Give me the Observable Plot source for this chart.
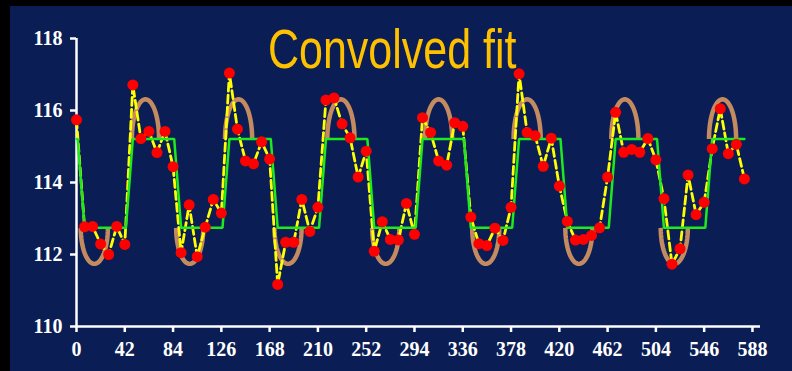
<!DOCTYPE html>
<html>
<head>
<meta charset="utf-8">
<script src="https://cdn.jsdelivr.net/npm/d3@7"></script>
<script src="https://cdn.jsdelivr.net/npm/@observablehq/plot@0.6"></script>
<style>
  html, body { margin: 0; padding: 0; background: #000; }
  #chart { position: absolute; left: 10px; top: 6px; width: 782px; height: 365px; background: #0a1e55; }
</style>
</head>
<body>
<div id="chart"></div>
<script>
// Weekly observations (day, value)
const days = [0, 7, 14, 21, 28, 35, 42, 49, 56, 63, 70, 77, 84, 91, 98, 105, 112, 119, 126, 133,
  140, 147, 154, 161, 168, 175, 182, 189, 196, 203, 210, 217, 224, 231, 238, 245, 252, 259, 266, 273,
  280, 287, 294, 301, 308, 315, 322, 329, 336, 343, 350, 357, 364, 371, 378, 385, 392, 399, 406, 413,
  420, 427, 434, 441, 448, 455, 462, 469, 476, 483, 490, 497, 504, 511, 518, 525, 532, 539, 546, 553,
  560, 567, 574, 581];
const observed = [115.74, 112.77, 112.78, 112.29, 112.00, 112.78, 112.28, 116.71, 115.22, 115.42,
  114.83, 115.42, 114.44, 112.05, 113.38, 111.94, 112.76, 113.53, 113.15, 117.04,
  115.48, 114.60, 114.52, 115.13, 114.65, 111.17, 112.34, 112.34, 113.53, 112.64,
  113.31, 116.29, 116.35, 115.63, 115.24, 114.15, 114.87, 112.09, 112.91, 112.42,
  112.40, 113.42, 112.56, 115.80, 115.39, 114.60, 114.48, 115.66, 115.56, 113.04,
  112.30, 112.25, 112.73, 112.39, 113.31, 117.02, 115.39, 115.30, 114.45, 115.23,
  113.90, 112.92, 112.40, 112.42, 112.53, 112.74, 114.15, 115.95, 114.84, 114.92,
  114.84, 115.22, 114.63, 113.55, 111.73, 112.16, 114.21, 113.11, 113.45, 114.94,
  116.05, 114.80, 115.06, 114.10];

// Convolved square-wave fit: corner points (day, level)
const fitDays = [0, 1, 7, 43, 49, 85, 91, 127, 133, 169, 175, 211, 217, 253, 259, 295, 301,
  337, 343, 379, 385, 421, 427, 463, 469, 505, 511, 547, 553, 581];
const fitLevels = [115.21, 115.21, 112.74, 112.74, 115.21, 115.21, 112.74, 112.74, 115.21, 115.21,
  112.74, 112.74, 115.21, 115.21, 112.74, 112.74, 115.21, 115.21, 112.74, 112.74, 115.21, 115.21,
  112.74, 112.74, 115.21, 115.21, 112.74, 112.74, 115.21, 115.21];

// Highlight arcs over the peaks and under the troughs
const peakArcCenters = [60, 141, 230, 315, 392, 477, 562];
const troughArcCenters = [15.5, 98.5, 184, 269, 356, 437, 520];
const arcHalfWidth = 11.8;
const peakArcBase = 115.21, peakArcTop = 116.31;
const troughArcBase = 112.74, troughArcBottom = 111.74;

const xTicks = [0, 42, 84, 126, 168, 210, 252, 294, 336, 378, 420, 462, 504, 546, 588];
const yTicks = [110, 112, 114, 116, 118];

const obs = days.map((d, i) => ({day: d, value: observed[i]}));
const fit = fitDays.map((d, i) => ({day: d, value: fitLevels[i]}));

// Half-ellipse outline for each highlighted extreme
const arcPts = [];
const steps = 32;
peakArcCenters.forEach((c, k) => {
  for (let j = 0; j <= steps; j++) {
    const t = Math.PI * j / steps;
    arcPts.push({id: "p" + k, day: c - arcHalfWidth * Math.cos(t), value: peakArcBase + (peakArcTop - peakArcBase) * Math.sin(t)});
  }
});
troughArcCenters.forEach((c, k) => {
  for (let j = 0; j <= steps; j++) {
    const t = Math.PI * j / steps;
    arcPts.push({id: "t" + k, day: c - arcHalfWidth * Math.cos(t), value: troughArcBase - (troughArcBase - troughArcBottom) * Math.sin(t)});
  }
});

const svg = Plot.plot({
  width: 782,
  height: 365,
  marginLeft: 66,
  marginTop: 32,
  marginRight: 32,
  marginBottom: 45,
  x: {domain: [0, 595]},
  y: {domain: [110, 118]},
  style: {
    background: "transparent",
    color: "white",
    fontFamily: "'Liberation Serif', 'Times New Roman', serif",
    fontSize: "20px",
    fontWeight: "bold",
    overflow: "visible"
  },
  marks: [
    Plot.axisX({ticks: xTicks, tickSize: 6, tickPadding: 9, strokeWidth: 2.5, fontSize: 20, label: null, tickFormat: d => String(d)}),
    Plot.axisY({ticks: yTicks, tickSize: 6, tickPadding: 8, strokeWidth: 2.5, fontSize: 20, label: null, tickFormat: d => String(d)}),
    Plot.ruleY([110], {stroke: "white", strokeWidth: 2.5}),
    Plot.ruleX([0], {stroke: "white", strokeWidth: 2.5}),
    Plot.line(arcPts, {x: "day", y: "value", z: "id", stroke: "#c48a60", strokeWidth: 4.5, strokeLinecap: "butt"}),
    Plot.line(obs, {x: "day", y: "value", stroke: "#ffff00", strokeWidth: 2.8, strokeDasharray: "8,4"}),
    Plot.line(fit, {x: "day", y: "value", stroke: "#1ee81e", strokeWidth: 2.5, strokeLinejoin: "miter"}),
    Plot.dot(obs, {x: "day", y: "value", r: 5.5, fill: "#ff0000", stroke: "none"})
  ]
});

d3.select(svg).append("text")
  .attr("transform", "translate(258,61.5) scale(1,1.27)")
  .attr("text-anchor", "start")
  .attr("fill", "#ffc000")
  .attr("font-family", "'Liberation Sans', Arial, sans-serif")
  .attr("font-size", 43)
  .attr("font-weight", "normal")
  .text("Convolved fit");

document.getElementById("chart").appendChild(svg);
</script>
</body>
</html>
